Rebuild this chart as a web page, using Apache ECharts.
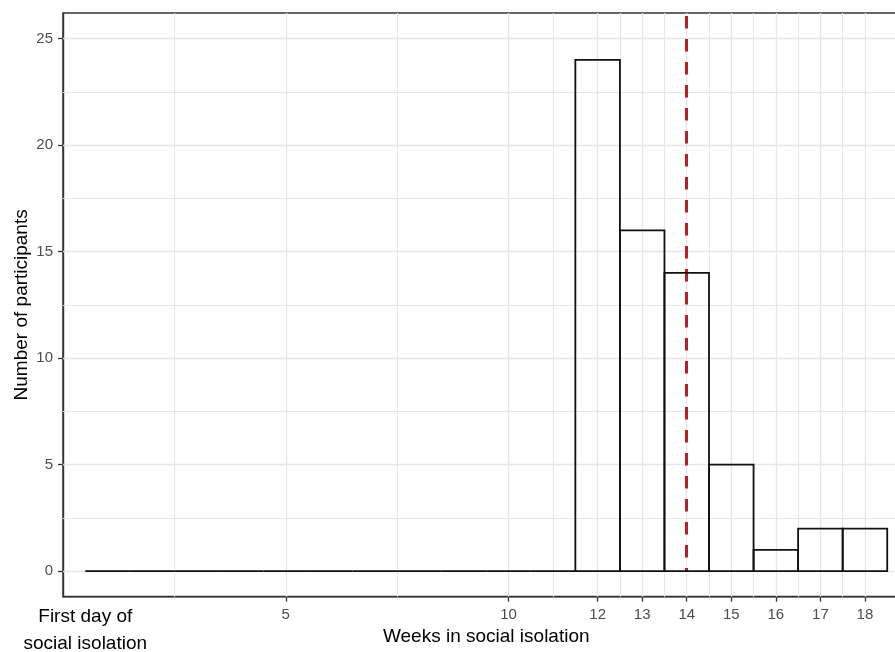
<!DOCTYPE html>
<html>
<head>
<meta charset="utf-8">
<script src="https://cdn.jsdelivr.net/npm/echarts@6/dist/echarts.min.js"></script>
<style>html,body{margin:0;padding:0;background:#fff;}#chart{width:895px;height:652px;}</style>
</head>
<body>
<div id="chart"></div>
<script>
// Data
const weeks = [1,2,3,4,5,6,7,8,9,10,11,12,13,14,15,16,17,18];
const counts = [0,0,0,0,0,0,0,0,0,0,0,24,16,14,5,1,2,2];
const meanWeek = 14;
const xTickValues = [5,10,12,13,14,15,16,17,18];
const xLabelValues = [0.5,5,10,12,13,14,15,16,17,18];
const yTickValues = [0,5,10,15,20,25];
const xMajorGrid = [5,10,12,13,14,15,16,17,18];
const xMinorGrid = [2.5,7.5,11,12.5,13.5,14.5,15.5,16.5,17.5];
const yMajorGrid = [0,5,10,15,20,25];
const yMinorGrid = [2.5,7.5,12.5,17.5,22.5];
const xRange = [0, 19];
const yRange = [-1.2, 26.2];

const chart = echarts.init(document.getElementById('chart'), null, {renderer:'canvas'});
const gridColor = '#e6e6e6';
const vLines = (arr, w) => arr.map(v => ({xAxis: v, lineStyle:{color:gridColor, width:w, type:'solid'}}));
const hLines = (arr, w) => arr.map(v => ({yAxis: v, lineStyle:{color:gridColor, width:w, type:'solid'}}));

const option = {
  animation: false,
  backgroundColor: '#fff',
  grid: {left: 63, top: 13, right: -14.5, bottom: 55.3, show: true, borderColor: '#333', borderWidth: 1.4, backgroundColor: 'transparent', containLabel: false, outerBoundsMode: 'none'},
  xAxis: {
    type: 'value', min: xRange[0], max: xRange[1],
    name: 'Weeks in social isolation', nameLocation: 'middle', nameGap: 31, nameMoveOverlap: false,
    nameTextStyle: {fontSize: 19, color: '#000', fontFamily: 'Liberation Sans'},
    axisLine: {show: true, onZero: false, lineStyle: {color: '#333', width: 1.4}},
    splitLine: {show: false},
    axisTick: {show: true, inside: false, customValues: xTickValues, length: 5, lineStyle: {color: '#333', width: 1.3}},
    axisLabel: {
      customValues: xLabelValues, margin: 7, fontSize: 15, lineHeight: 22, color: '#4d4d4d', fontFamily: 'Liberation Sans',
      formatter: v => v === 0.5 ? '{f|First day of}\n{f|social isolation}' : String(v),
      rich: {f: {fontSize: 19, lineHeight: 27, color: '#000', fontFamily: 'Liberation Sans'}}
    }
  },
  yAxis: {
    type: 'value', min: yRange[0], max: yRange[1],
    name: 'Number of participants', nameLocation: 'middle', nameGap: 32, nameMoveOverlap: false,
    nameTextStyle: {fontSize: 19, color: '#000', fontFamily: 'Liberation Sans'},
    axisLine: {show: true, onZero: false, lineStyle: {color: '#333', width: 1.4}},
    splitLine: {show: false},
    axisTick: {show: true, inside: false, customValues: yTickValues, length: 5, lineStyle: {color: '#333', width: 1.3}},
    axisLabel: {customValues: yTickValues, margin: 10, fontSize: 15, color: '#4d4d4d', fontFamily: 'Liberation Sans'}
  },
  series: [
    {
      type: 'line', data: [], silent: true, z: 1,
      markLine: {
        silent: true, symbol: 'none', label: {show: false}, animation: false,
        data: [].concat(vLines(xMinorGrid, 1.1), hLines(yMinorGrid, 1.1), vLines(xMajorGrid, 1.3), hLines(yMajorGrid, 1.3))
      }
    },
    {
      type: 'custom', z: 5, silent: true,
      data: weeks.map((w, i) => [w, counts[i]]),
      renderItem: function (params, api) {
        const x = api.value(0), c = api.value(1);
        const p0 = api.coord([x - 0.5, c]);
        const p1 = api.coord([x + 0.5, 0]);
        return {
          type: 'rect',
          shape: {x: p0[0], y: p0[1], width: p1[0] - p0[0], height: p1[1] - p0[1]},
          style: {fill: 'none', stroke: '#111', lineWidth: 1.8}
        };
      }
    },
    {
      type: 'line', data: [], silent: true, z: 10,
      markLine: {
        silent: true, symbol: 'none', label: {show: false}, animation: false,
        lineStyle: {color: '#b5202a', width: 3, type: [12.5, 10.5], dashOffset: -3},
        data: [[{coord: [meanWeek, yRange[1]]}, {coord: [meanWeek, 0]}]]
      }
    }
  ]
};
chart.setOption(option);
</script>
</body>
</html>
